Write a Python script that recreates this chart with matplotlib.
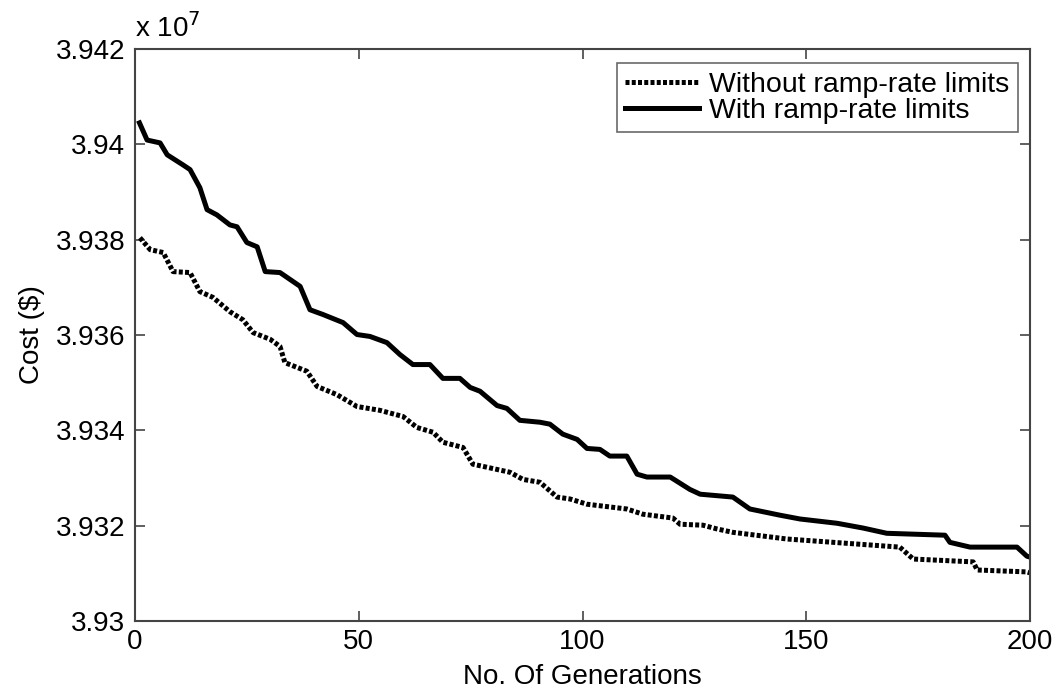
import matplotlib
matplotlib.use("Agg")
import matplotlib.pyplot as plt
from matplotlib.ticker import FuncFormatter

plt.rcParams['font.family'] = ['Liberation Sans', 'DejaVu Sans']

# Cost in units of 1e7 $
gen_with = [1.0, 2.7, 5.6, 7.2, 10.7, 12.3, 14.5, 16.1, 18.3, 21.2,
            22.8, 25.0, 27.3, 29.1, 32.4, 36.9, 39.1, 42.0, 46.5, 49.6,
            52.5, 56.3, 59.2, 62.1, 65.9, 68.8, 72.6, 74.9, 77.1, 80.9,
            83.1, 86.0, 90.5, 92.7, 95.6, 98.8, 101.0, 103.9, 106.1, 109.9,
            112.2, 114.4, 119.6, 124.0, 126.3, 133.6, 137.4, 144.1, 148.6, 156.9,
            162.7, 168.0, 181.0, 182.1, 186.6, 197.1, 199.3, 200.0]
cost_with = [3.94045, 3.94009, 3.94003, 3.93978, 3.93957, 3.93947, 3.93909, 3.93863, 3.93852, 3.93831,
             3.93827, 3.93794, 3.93785, 3.93733, 3.93731, 3.93702, 3.93653, 3.93643, 3.93626, 3.93601,
             3.93597, 3.93584, 3.93559, 3.93538, 3.93538, 3.93509, 3.93509, 3.93490, 3.93482, 3.93452,
             3.93446, 3.93421, 3.93417, 3.93413, 3.93392, 3.93381, 3.93362, 3.93360, 3.93346, 3.93346,
             3.93308, 3.93302, 3.93302, 3.93276, 3.93266, 3.93260, 3.93235, 3.93222, 3.93214, 3.93205,
             3.93195, 3.93184, 3.93180, 3.93165, 3.93155, 3.93155, 3.93136, 3.93134]

gen_without = [1.1, 3.4, 6.3, 8.5, 12.3, 14.5, 17.4, 21.2, 24.1, 26.4,
               30.2, 32.4, 33.5, 38.4, 40.7, 45.1, 49.6, 54.7, 59.9, 63.0,
               66.6, 68.8, 73.3, 75.5, 83.8, 86.7, 90.5, 94.3, 97.2, 101.0,
               109.9, 113.5, 120.2, 121.8, 126.9, 130.1, 133.6, 145.7, 170.9, 173.9,
               187.3, 188.2, 199.3, 200.0]
cost_without = [3.93804, 3.93779, 3.93773, 3.93733, 3.93731, 3.93691, 3.93679, 3.93649, 3.93632, 3.93605,
                3.93591, 3.93576, 3.93542, 3.93524, 3.93492, 3.93475, 3.93450, 3.93442, 3.93429, 3.93406,
                3.93396, 3.93375, 3.93364, 3.93329, 3.93312, 3.93297, 3.93291, 3.93260, 3.93256, 3.93245,
                3.93235, 3.93224, 3.93216, 3.93203, 3.93201, 3.93193, 3.93186, 3.93172, 3.93155, 3.93130,
                3.93124, 3.93107, 3.93103, 3.93101]

x_ticks = [0, 50, 100, 150, 200]
y_ticks = [3.930, 3.932, 3.934, 3.936, 3.938, 3.940, 3.942]

FS = 20
FS_LEG = 20.5

fig = plt.figure(figsize=(10.63, 6.90), dpi=100)
ax = fig.add_axes([135/1063, 1-621/690, (1030-135)/1063, (621-49)/690])

ax.plot(gen_without, cost_without, color='black', lw=3.6,
        linestyle=(0, (0.8, 0.45)), dash_capstyle='butt',
        label='Without ramp-rate limits')
ax.plot(gen_with, cost_with, color='black', lw=3.6,
        solid_joinstyle='round', label='With ramp-rate limits')

ax.set_xlim(0, 200)
ax.set_ylim(3.930, 3.942)
ax.set_xticks(x_ticks)
ax.set_yticks(y_ticks)
ax.yaxis.set_major_formatter(FuncFormatter(lambda v, p: '%g' % round(v, 4)))
ax.tick_params(direction='in', length=7, width=1.2, top=True, right=True,
               labelsize=FS, color='#444444')
ax.tick_params(axis='x', pad=6)
ax.tick_params(axis='y', pad=7)
for s in ax.spines.values():
    s.set_color('#444444')
    s.set_linewidth(1.5)

ax.set_xlabel('No. Of Generations', fontsize=FS, labelpad=6)
ax.set_ylabel('Cost ($)', fontsize=FS, labelpad=8)
ax.text(0.0, 1 + 12/572, r'x 10$^{7}$', transform=ax.transAxes,
        fontsize=20, ha='left', va='baseline')

leg = ax.legend(loc='upper right', bbox_to_anchor=((1018-135)/895, 1-(63-49)/572),
                borderaxespad=0, fontsize=FS_LEG, handlelength=2.6, handletextpad=0.35,
                fancybox=False, frameon=True, borderpad=0.3, labelspacing=0.0)
leg.get_frame().set_edgecolor('#444444')
leg.get_frame().set_linewidth(1.2)

fig.savefig('out.png', dpi=100)
